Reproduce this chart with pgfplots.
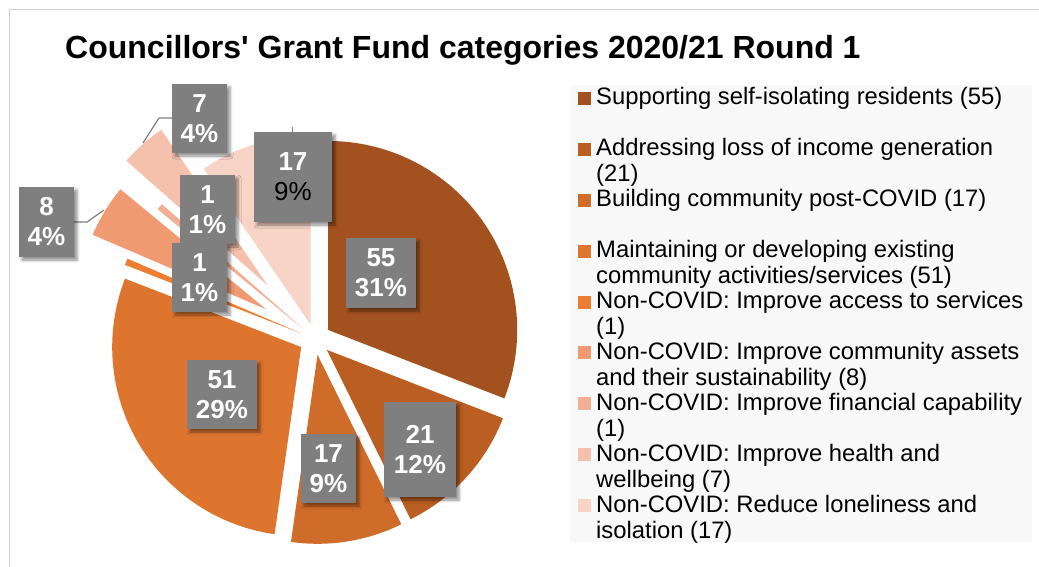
\documentclass[border=0pt]{standalone}
\usepackage{pgfplots}
\pgfplotsset{compat=1.18}
\usepackage{pgfplotstable}
\usepackage{fontspec}
\setmainfont{Liberation Sans}[Ligatures=TeXOff]
\usetikzlibrary{shadows.blur}

\definecolor{c1}{HTML}{A3521F}
\definecolor{c2}{HTML}{BA5E22}
\definecolor{c3}{HTML}{CF6C29}
\definecolor{c4}{HTML}{DE752E}
\definecolor{c5}{HTML}{ED7D31}
\definecolor{c6}{HTML}{F09A72}
\definecolor{c7}{HTML}{F3AF93}
\definecolor{c8}{HTML}{F5C1AC}
\definecolor{c9}{HTML}{F8D4C7}
\definecolor{lblgray}{HTML}{7F7F7F}
\definecolor{legbg}{HTML}{F8F8F8}
\definecolor{framegray}{HTML}{D0D0D0}

% slice values and explosion offsets (px)
\pgfplotstableread{
value explode
55 16
21 16
17 16
51 16
1 15
8 57
1 15
7 71
17 15
}\piedata

\def\cx{315}\def\cy{339}\def\R{189}

\xdef\total{0}
\foreach \i in {0,...,8}{%
  \pgfplotstablegetelem{\i}{value}\of\piedata
  \pgfmathparse{\total+\pgfplotsretval}\xdef\total{\pgfmathresult}%
}
\xdef\cum{0}
\foreach \i in {0,...,8}{%
  \pgfplotstablegetelem{\i}{value}\of\piedata \let\sliceval\pgfplotsretval
  \pgfplotstablegetelem{\i}{explode}\of\piedata \let\sliceexp\pgfplotsretval
  \pgfmathsetmacro{\angA}{\cum/\total*360}%
  \pgfmathsetmacro{\angB}{(\cum+\sliceval)/\total*360}%
  \pgfmathsetmacro{\angM}{(\angA+\angB)/2}%
  \pgfmathsetmacro{\tipx}{\cx+\sliceexp*sin(\angM)}%
  \pgfmathsetmacro{\tipy}{\cy-\sliceexp*cos(\angM)}%
  \expandafter\xdef\csname sA\i\endcsname{\angA}%
  \expandafter\xdef\csname sB\i\endcsname{\angB}%
  \expandafter\xdef\csname tX\i\endcsname{\tipx}%
  \expandafter\xdef\csname tY\i\endcsname{\tipy}%
  \pgfmathparse{\cum+\sliceval}\xdef\cum{\pgfmathresult}%
}

\newcommand{\pieslice}[2]{%
  \addplot[fill=#2, draw=none, domain=\csname sA#1\endcsname:\csname sB#1\endcsname, samples=90]
    ({\csname tX#1\endcsname+\R*sin(x)}, {\csname tY#1\endcsname-\R*cos(x)})
    -- (axis cs:\csname tX#1\endcsname,\csname tY#1\endcsname) -- cycle;%
}

\tikzset{
  lbl/.style={fill=lblgray, text=white, font=\fontsize{26}{30}\selectfont\bfseries,
    align=center, inner sep=0pt,
    blur shadow={shadow xshift=3pt, shadow yshift=-3pt, shadow blur radius=3pt, shadow opacity=45}},
  legtxt/.style={anchor=base west, inner sep=0pt, font=\fontsize{23.8}{26}\selectfont}
}

\newcommand{\legentry}[4]{%
  \fill[#2] (axis cs:578,#1-13) rectangle (axis cs:591,#1);
  \node[legtxt] at (axis cs:596,#1) {#3};
  \node[legtxt] at (axis cs:596,#1+26) {#4};
}

\begin{document}
\begin{tikzpicture}
\useasboundingbox (0,0) rectangle (1039pt,567pt);
\begin{axis}[
  at={(0,0)}, anchor=south west,
  width=1039pt, height=567pt, scale only axis,
  xmin=0, xmax=1039, ymin=0, ymax=567, y dir=reverse,
  hide axis, clip=false
]
% chart area frame (left and top edges visible)
\draw[framegray, line width=1.5pt] (axis cs:9.5,567) -- (axis cs:9.5,9.5) -- (axis cs:1039,9.5);

% title
\node[anchor=base west, inner sep=0pt, font=\fontsize{32}{36}\selectfont\bfseries]
  at (axis cs:65,59) {Councillors' Grant Fund categories 2020/21 Round 1};

% legend
\fill[legbg] (axis cs:570,85) rectangle (axis cs:1032,542);
\legentry{105}{c1}{Supporting self-isolating residents (55)}{}
\legentry{155.9}{c2}{Addressing loss of income generation}{(21)}
\legentry{206.75}{c3}{Building community post-COVID (17)}{}
\legentry{257.6}{c4}{Maintaining or developing existing}{community activities/services (51)}
\legentry{308.5}{c5}{Non-COVID: Improve access to services}{(1)}
\legentry{359.4}{c6}{Non-COVID: Improve community assets}{and their sustainability (8)}
\legentry{410.25}{c7}{Non-COVID: Improve financial capability}{(1)}
\legentry{461.1}{c8}{Non-COVID: Improve health and}{wellbeing (7)}
\legentry{512}{c9}{Non-COVID: Reduce loneliness and}{isolation (17)}

% pie slices
\pieslice{0}{c1}
\pieslice{1}{c2}
\pieslice{2}{c3}
\pieslice{3}{c4}
\pieslice{4}{c5}
\pieslice{5}{c6}
\pieslice{6}{c7}
\pieslice{7}{c8}
\pieslice{8}{c9}

% leader lines
\draw[lblgray, line width=1.2pt] (axis cs:172,118) -- (axis cs:159,118) -- (axis cs:143,143);
\draw[lblgray, line width=1.2pt] (axis cs:74,222) -- (axis cs:87,222) -- (axis cs:104,210);
\draw[lblgray, line width=0.8pt] (axis cs:292,127) -- (axis cs:292,132);

% data labels
\node[lbl, minimum width=70pt, minimum height=70pt] at (axis cs:381,273) {55\\31\%};
\node[lbl, minimum width=72pt, minimum height=95pt] at (axis cs:420,449.5) {21\\12\%};
\node[lbl, minimum width=55pt, minimum height=69pt] at (axis cs:328.5,468.5) {17\\9\%};
\node[lbl, minimum width=70pt, minimum height=69pt] at (axis cs:222,394.5) {51\\29\%};
\node[lbl, minimum width=55pt, minimum height=69pt] at (axis cs:207.5,209.5) {1\\1\%};
\node[lbl, minimum width=55pt, minimum height=69pt] at (axis cs:199.5,277.5) {1\\1\%};
\node[lbl, minimum width=55pt, minimum height=70pt] at (axis cs:46.5,222) {8\\4\%};
\node[lbl, minimum width=55pt, minimum height=69pt] at (axis cs:199.5,118.5) {7\\4\%};
\node[lbl, minimum width=78pt, minimum height=90pt] at (axis cs:293,177) {17\\{\mdseries\color{black}9\%}};
\end{axis}
\end{tikzpicture}
\end{document}
